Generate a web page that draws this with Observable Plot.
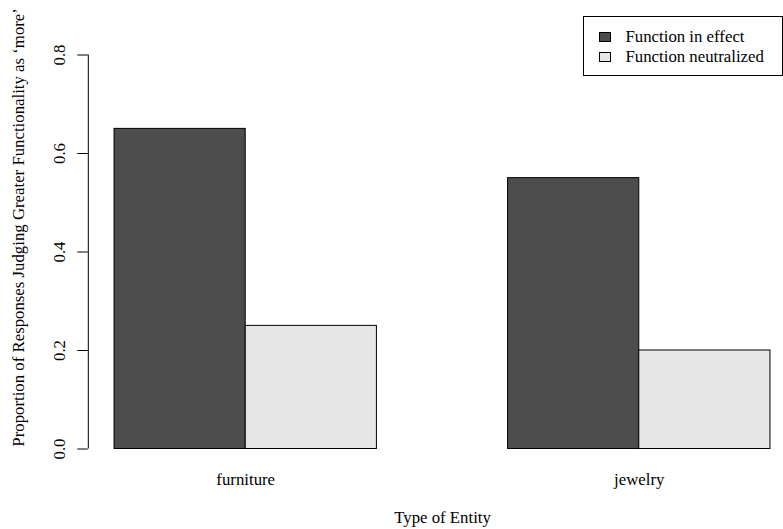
<!DOCTYPE html>
<html>
<head>
<meta charset="utf-8">
<script src="https://cdn.jsdelivr.net/npm/d3@7"></script>
<script src="https://cdn.jsdelivr.net/npm/@observablehq/plot@0.6"></script>
<style>
  body { margin: 0; background: #fff; }
  #chart { position: relative; width: 783px; height: 529px; font-family: "Liberation Serif", serif; }
  .legend {
    position: absolute; left: 583px; top: 16px; width: 200px; height: 60px;
    box-sizing: border-box; border: 1px solid #000; background: #fff;
    padding: 10px 0 0 14.5px; font-size: 16.8px;
  }
  .legend .row { display: flex; align-items: center; height: 20px; }
  .legend .swatch { width: 12px; height: 10px; border: 1px solid #000; box-sizing: border-box; margin-right: 15px; }
</style>
</head>
<body>
<div id="chart"></div>
<script>
// Proportions by entity type and condition
const groups = ["furniture", "jewelry"];
const series = ["Function in effect", "Function neutralized"];
const furnitureValues = [0.65, 0.25];
const jewelryValues = [0.55, 0.20];
const yTicks = [0, 0.2, 0.4, 0.6, 0.8];
const colors = ["#4d4d4d", "#e6e6e6"];
const xTitle = "Type of Entity";
const yTitle = "Proportion of Responses Judging Greater Functionality as \u2018more\u2019";

// side-by-side bar layout: one bar-width of space before each group
const space = 1;
const valuesByGroup = [furnitureValues, jewelryValues];
const rows = [];
groups.forEach((g, gi) => {
  series.forEach((s, si) => {
    const x1 = gi * (series.length + space) + space + si;
    rows.push({group: g, series: s, value: valuesByGroup[gi][si], x1, x2: x1 + 1});
  });
});
const centers = groups.map((g, gi) => gi * (series.length + space) + space + series.length / 2);
const xMin = 1, xMax = groups.length * (series.length + space);
const pad = (xMax - xMin) * 0.04;
const xDomain = [xMin - pad, xMax + pad];
const xMid = (xDomain[0] + xDomain[1]) / 2;

const plot = Plot.plot({
  width: 783,
  height: 529,
  marginLeft: 87.8,
  marginRight: 0,
  marginTop: 5.25,
  marginBottom: 80.5,
  style: {fontFamily: "Liberation Serif, serif", fontSize: "16.8px", color: "#000", background: "#fff"},
  x: {domain: xDomain, range: [87.8, 796.2], axis: null},
  y: {
    domain: [0, 0.9],
    ticks: yTicks,
    tickSize: 10.5,
    tickRotate: -90,
    tickPadding: 12.5,
    tickFormat: d3.format(".1f"),
    label: null
  },
  color: {domain: series, range: colors},
  marks: [
    Plot.rectY(rows, {x1: "x1", x2: "x2", y1: 0, y2: "value", fill: "series", stroke: "#000", strokeWidth: 1}),
    Plot.ruleX([xDomain[0]], {y1: 0, y2: yTicks[yTicks.length - 1], stroke: "#000", strokeWidth: 1}),
    Plot.text(groups, {x: (d, i) => centers[i], y: () => 0, text: d => d, dy: 36, lineAnchor: "bottom"}),
    Plot.text([xTitle], {x: () => xMid, y: () => 0, text: d => d, dy: 74, lineAnchor: "bottom"}),
    Plot.text([yTitle], {frameAnchor: "left", text: d => d, rotate: -90, dx: -64, textAnchor: "middle", lineAnchor: "bottom"})
  ]
});

const chart = document.getElementById("chart");
chart.appendChild(plot);

// legend box in the top-right corner
const legend = document.createElement("div");
legend.className = "legend";
series.forEach((s, i) => {
  const row = document.createElement("div");
  row.className = "row";
  const sw = document.createElement("span");
  sw.className = "swatch";
  sw.style.background = colors[i];
  const label = document.createElement("span");
  label.textContent = s;
  row.appendChild(sw);
  row.appendChild(label);
  legend.appendChild(row);
});
chart.appendChild(legend);
</script>
</body>
</html>
